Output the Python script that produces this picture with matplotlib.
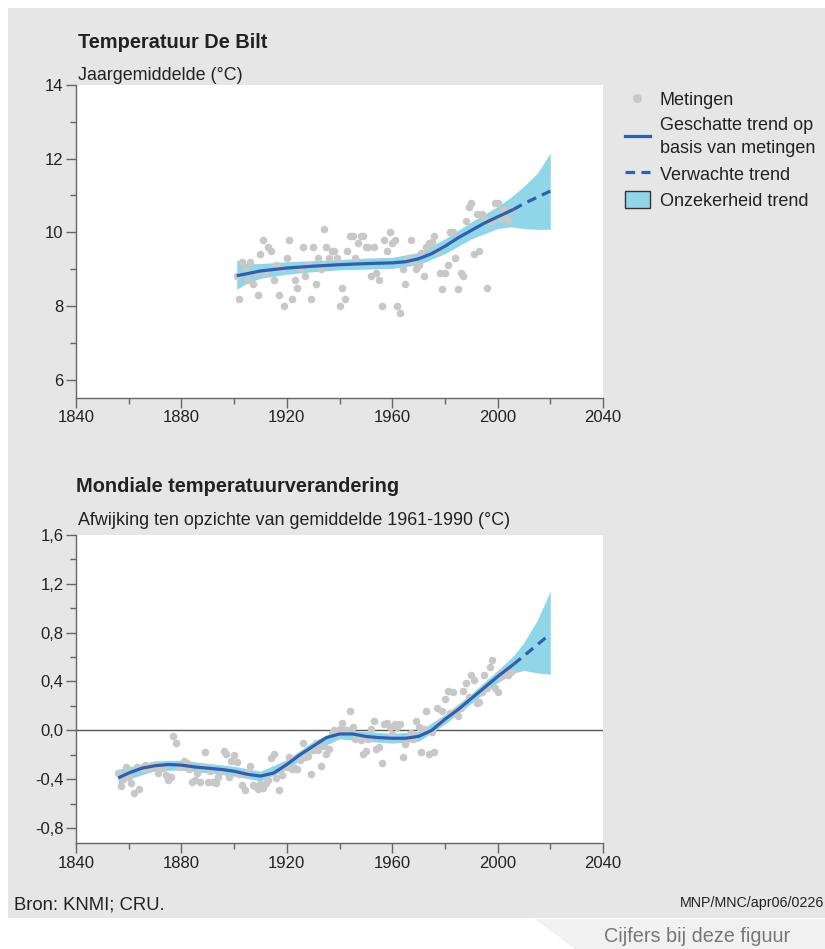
import matplotlib
matplotlib.use("Agg")
import matplotlib.pyplot as plt
from matplotlib.lines import Line2D
from matplotlib.patches import Patch, Rectangle, Polygon
from matplotlib.ticker import MultipleLocator, FuncFormatter

plt.rcParams['font.family'] = ['Liberation Sans', 'DejaVu Sans']

# --- data: De Bilt yearly mean temperature ---
bilt_years = list(range(1901, 2006))
bilt_temp = [8.8, 8.2, 9.2, 9.0, 8.7, 9.2, 8.6, 8.9, 8.3, 9.4,
             9.8, 8.9, 9.6, 9.5, 8.7, 9.1, 8.3, 9.0, 8.0, 9.3,
             9.8, 8.2, 8.7, 8.5, 9.0, 9.6, 8.8, 9.1, 8.2, 9.6,
             8.6, 9.3, 9.0, 10.1, 9.6, 9.3, 9.5, 9.5, 9.3, 8.0,
             8.5, 8.2, 9.5, 9.9, 9.9, 9.3, 9.7, 9.9, 9.9, 9.6,
             9.6, 8.8, 9.6, 8.9, 8.7, 8.0, 9.8, 9.5, 10.0, 9.7,
             9.8, 8.0, 7.8, 9.0, 8.6, 9.3, 9.8, 9.2, 9.0, 9.1,
             9.45, 8.8, 9.6, 9.7, 9.75, 9.9, 9.5, 8.9, 8.45, 8.9,
             9.1, 10.0, 10.0, 9.3, 8.45, 8.9, 8.8, 10.3, 10.7, 10.8,
             9.4, 10.5, 9.5, 10.5, 10.4, 8.5, 10.3, 10.3, 10.8, 10.8,
             10.4, 10.6, 10.4, 10.3, 10.6]

bilt_trend_years = [1901, 1910, 1920, 1930, 1940, 1950, 1960, 1965, 1970,
                    1975, 1980, 1985, 1990, 1995, 2000, 2006]
bilt_trend = [8.82, 8.95, 9.03, 9.08, 9.12, 9.15, 9.17, 9.2, 9.28,
              9.42, 9.62, 9.85, 10.05, 10.25, 10.42, 10.62]
bilt_proj_years = [2006, 2010, 2015, 2020]
bilt_proj = [10.62, 10.78, 10.95, 11.12]

bilt_band_years = [1901, 1905, 1910, 1920, 1930, 1940, 1950, 1960, 1970,
                   1980, 1990, 2000, 2005, 2010, 2015, 2020]
bilt_band_lo = [8.45, 8.62, 8.75, 8.86, 8.93, 8.98, 9.0, 9.02, 9.12,
                9.42, 9.82, 10.1, 10.15, 10.1, 10.08, 10.08]
bilt_band_hi = [9.25, 9.15, 9.15, 9.2, 9.23, 9.26, 9.3, 9.32, 9.45,
                9.82, 10.28, 10.7, 10.95, 11.25, 11.6, 12.15]

# --- data: global temperature anomaly vs 1961-1990 ---
glob_years = list(range(1856, 2006))
glob_anom = [-0.35, -0.46, -0.40, -0.30, -0.38, -0.43, -0.51, -0.30, -0.48, -0.31,
             -0.28, -0.32, -0.30, -0.28, -0.29, -0.35, -0.29, -0.31, -0.37, -0.41,
             -0.38, -0.05, -0.10, -0.29, -0.30, -0.25, -0.27, -0.32, -0.42, -0.41,
             -0.35, -0.42, -0.30, -0.18, -0.42, -0.33, -0.42, -0.43, -0.38, -0.33,
             -0.17, -0.19, -0.38, -0.25, -0.20, -0.26, -0.36, -0.45, -0.49, -0.35,
             -0.29, -0.45, -0.46, -0.48, -0.44, -0.47, -0.43, -0.41, -0.23, -0.19,
             -0.39, -0.49, -0.37, -0.30, -0.30, -0.22, -0.32, -0.31, -0.32, -0.24,
             -0.10, -0.22, -0.21, -0.36, -0.16, -0.10, -0.16, -0.29, -0.13, -0.19,
             -0.15, -0.02, 0.00, -0.02, 0.01, 0.06, 0.00, 0.00, 0.16, 0.03,
             -0.07, -0.05, -0.08, -0.19, -0.17, -0.07, 0.01, 0.08, -0.15, -0.14,
             -0.27, 0.05, 0.06, 0.03, -0.03, 0.05, 0.03, 0.05, -0.22, -0.11,
             -0.06, -0.02, -0.07, 0.08, 0.03, -0.18, 0.01, 0.16, -0.19, -0.01,
             -0.18, 0.18, 0.07, 0.16, 0.26, 0.32, 0.14, 0.31, 0.16, 0.12,
             0.18, 0.32, 0.39, 0.27, 0.45, 0.41, 0.22, 0.23, 0.31, 0.45,
             0.35, 0.52, 0.58, 0.35, 0.31, 0.44, 0.48, 0.47, 0.45, 0.48]

glob_trend_years = [1856, 1860, 1865, 1870, 1875, 1880, 1885, 1890, 1895, 1900,
                    1905, 1910, 1915, 1920, 1925, 1930, 1935, 1940, 1945, 1950,
                    1955, 1960, 1965, 1970, 1975, 1980, 1985, 1990, 1995, 2000, 2006]
glob_trend = [-0.39, -0.35, -0.31, -0.29, -0.28, -0.285, -0.30, -0.31, -0.32, -0.335,
              -0.36, -0.375, -0.35, -0.28, -0.20, -0.13, -0.06, -0.03, -0.03, -0.05,
              -0.06, -0.065, -0.065, -0.05, 0.0, 0.09, 0.17, 0.26, 0.35, 0.44, 0.54]
glob_proj_years = [2006, 2010, 2015, 2020]
glob_proj = [0.54, 0.61, 0.70, 0.79]

glob_band_years = [1856, 1860, 1870, 1880, 1890, 1900, 1910, 1920, 1930, 1940,
                   1950, 1960, 1970, 1980, 1990, 2000, 2006, 2010, 2015, 2020]
glob_band_lo = [-0.46, -0.40, -0.33, -0.325, -0.35, -0.375, -0.415, -0.32, -0.17, -0.07,
                -0.09, -0.105, -0.09, 0.05, 0.22, 0.39, 0.47, 0.49, 0.47, 0.46]
glob_band_hi = [-0.32, -0.30, -0.25, -0.245, -0.27, -0.295, -0.335, -0.24, -0.09, 0.01,
                -0.01, -0.025, -0.01, 0.13, 0.30, 0.49, 0.61, 0.72, 0.90, 1.14]

DOT = '#c8c8c8'
BAND = '#90d6e8'
LINE = '#2f5fad'
SPINE = '#666666'
TXT = '#222222'

W, H = 825, 949
fig = plt.figure(figsize=(W / 100, H / 100), dpi=100)
fig.patch.set_facecolor('white')

# grey panel behind everything
fig.patches.append(Rectangle((8 / W, 1 - 918 / H), 1, (918 - 8) / H,
                             transform=fig.transFigure, facecolor='#e6e6e6',
                             edgecolor='none', zorder=-10))
# tab at the bottom right
fig.patches.append(Polygon([(535 / W, 1 - 919 / H), (1, 1 - 919 / H),
                            (1, 0), (575 / W, 0)],
                           closed=True, transform=fig.transFigure,
                           facecolor='#f1f1f1', edgecolor='none', zorder=-10))


def style_axes(ax):
    ax.set_facecolor('white')
    for s in ['top', 'right']:
        ax.spines[s].set_visible(False)
    for s in ['left', 'bottom']:
        ax.spines[s].set_color(SPINE)
        ax.spines[s].set_linewidth(1)
    ax.tick_params(which='major', direction='out', length=7, width=1,
                   color=SPINE, labelsize=12, labelcolor=TXT, pad=2)
    ax.tick_params(which='minor', direction='out', length=4, width=1,
                   color=SPINE)
    ax.set_xlim(1840, 2040)
    ax.xaxis.set_major_locator(MultipleLocator(40))
    ax.xaxis.set_minor_locator(MultipleLocator(20))


# ---- top chart ----
ax1 = fig.add_axes([76 / W, 1 - 398 / H, 527 / W, 313 / H])
style_axes(ax1)
ax1.set_ylim(5.5, 14)
ax1.yaxis.set_major_locator(MultipleLocator(2))
ax1.yaxis.set_minor_locator(MultipleLocator(1))
ax1.fill_between(bilt_band_years, bilt_band_lo, bilt_band_hi, color=BAND,
                 linewidth=0, zorder=2)
ax1.scatter(bilt_years, bilt_temp, s=30, color=DOT, linewidths=0, zorder=3)
ax1.plot(bilt_trend_years, bilt_trend, color=LINE, lw=2.3, zorder=4,
         solid_capstyle='butt')
ax1.plot(bilt_proj_years, bilt_proj, color=LINE, lw=2.3, ls=(0, (3, 2)), zorder=4)

fig.text(78 / W, 1 - 48 / H, 'Temperatuur De Bilt', fontsize=14.4,
         fontweight='bold', color=TXT)
fig.text(78 / W, 1 - 80 / H, 'Jaargemiddelde (°C)', fontsize=12.9, color=TXT)

# ---- bottom chart ----
ax2 = fig.add_axes([76 / W, 1 - 843 / H, 527 / W, 308 / H])
style_axes(ax2)
ax2.set_ylim(-0.923, 1.6)
ax2.yaxis.set_major_locator(MultipleLocator(0.4))
ax2.yaxis.set_minor_locator(MultipleLocator(0.2))
ax2.yaxis.set_major_formatter(FuncFormatter(lambda v, p: f'{v:.1f}'.replace('.', ',')))
ax2.axhline(0, color='#555555', lw=1, zorder=1)
ax2.fill_between(glob_band_years, glob_band_lo, glob_band_hi, color=BAND,
                 linewidth=0, zorder=2)
ax2.scatter(glob_years, glob_anom, s=30, color=DOT, linewidths=0, zorder=3)
ax2.plot(glob_trend_years, glob_trend, color=LINE, lw=2.3, zorder=4,
         solid_capstyle='butt')
ax2.plot(glob_proj_years, glob_proj, color=LINE, lw=2.3, ls=(0, (3, 2)), zorder=4)

fig.text(76 / W, 1 - 492 / H, 'Mondiale temperatuurverandering', fontsize=14.4,
         fontweight='bold', color=TXT)
fig.text(78 / W, 1 - 525 / H, 'Afwijking ten opzichte van gemiddelde 1961-1990 (°C)',
         fontsize=12.9, color=TXT)

# ---- legend ----
handles = [
    Line2D([], [], marker='o', ls='none', color=DOT, markersize=5.5),
    Line2D([], [], color=LINE, lw=2.3),
    Line2D([], [], color=LINE, lw=2.3, ls=(0, (3, 2))),
    Patch(facecolor=BAND, edgecolor='#333333', linewidth=1),
]
labels = ['Metingen', 'Geschatte trend op\nbasis van metingen',
          'Verwachte trend', 'Onzekerheid trend']
leg = fig.legend(handles, labels, loc='upper left',
                 bbox_to_anchor=(609 / W, 1 - 74 / H),
                 frameon=False, fontsize=13, handlelength=1.35, handleheight=1.1,
                 handletextpad=0.55, labelspacing=0.42, labelcolor=TXT)
for t in leg.get_texts():
    t.set_linespacing(1.5)

# ---- footer ----
fig.text(14 / W, 1 - 909 / H, 'Bron: KNMI; CRU.', fontsize=13.3, color=TXT)
fig.text(824 / W, 1 - 907 / H, 'MNP/MNC/apr06/0226', fontsize=10.3, color=TXT,
         ha='right')
fig.text(697 / W, 1 - 942 / H, 'Cijfers bij deze figuur', fontsize=14.3,
         color='#777777', ha='center')

fig.savefig('out.png', dpi=100)
